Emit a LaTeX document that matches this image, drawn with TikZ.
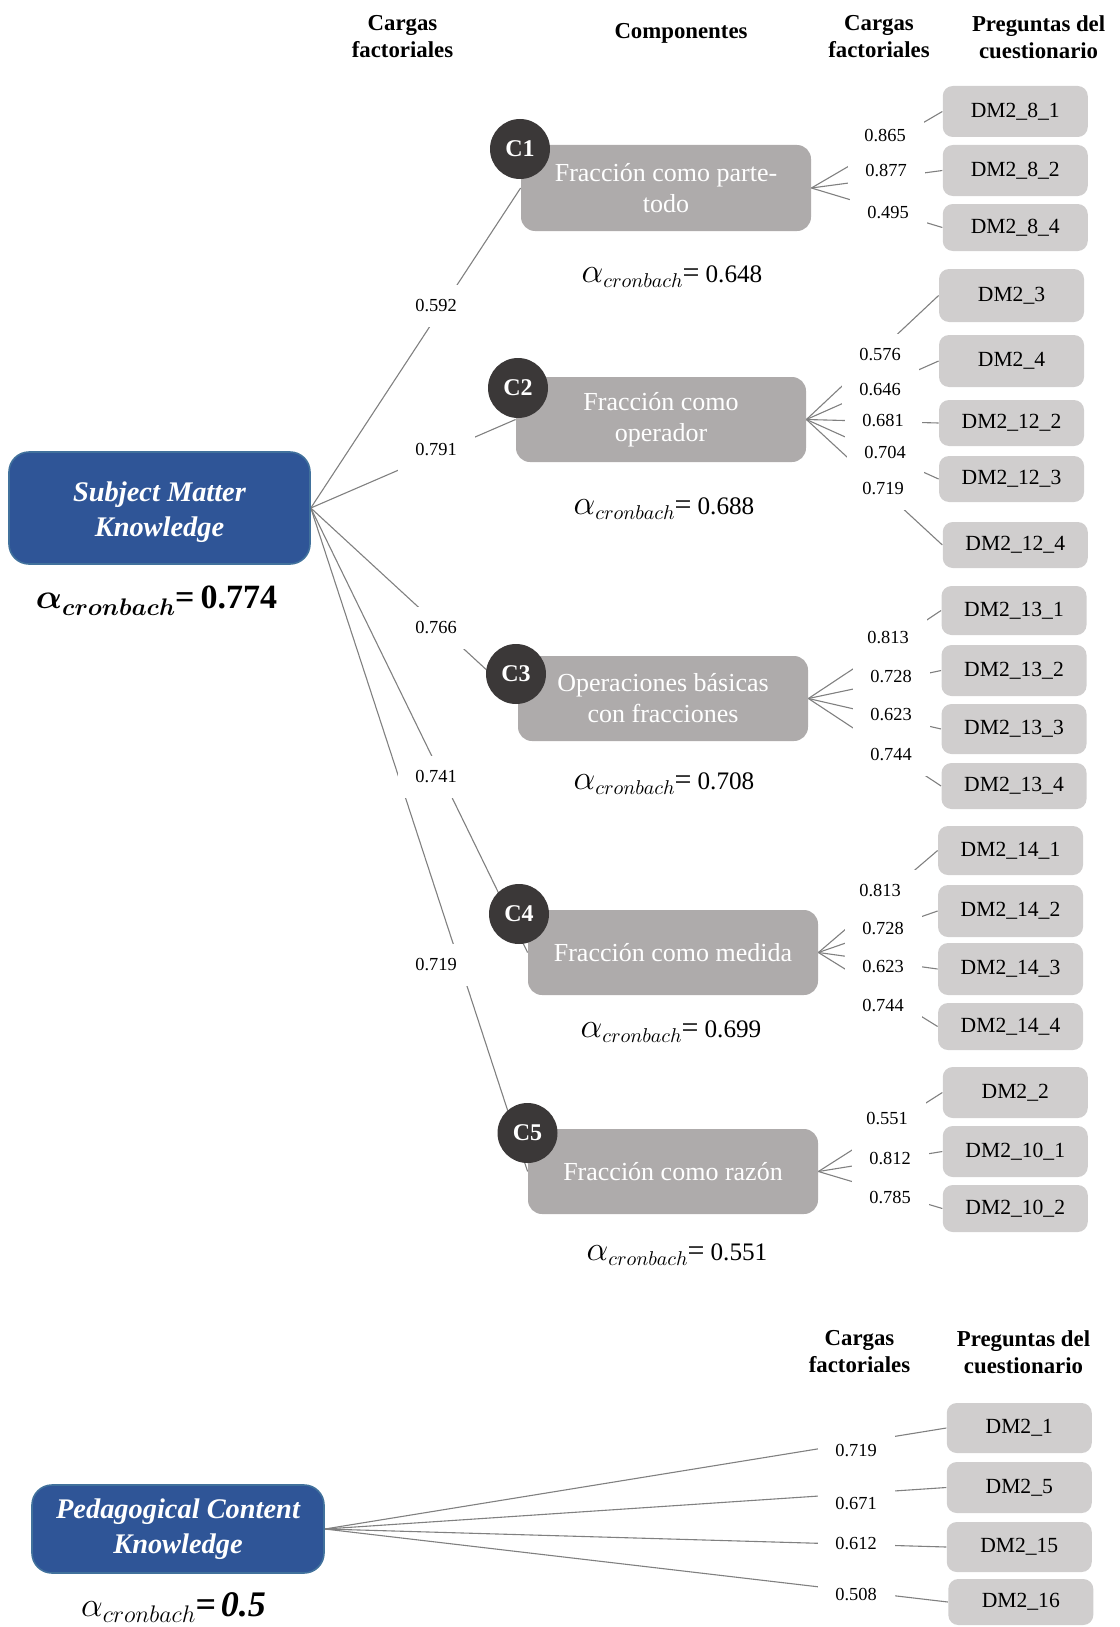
\documentclass[tikz,border=0pt]{standalone}
\usepackage{bm}
\usepackage{fontspec}
\setmainfont{Liberation Serif}
\definecolor{mainblue}{HTML}{2F5597}
\definecolor{mainborder}{HTML}{41719C}
\definecolor{compgray}{HTML}{AEABAB}
\definecolor{circgray}{HTML}{3B3838}
\definecolor{itemgray}{HTML}{D0CECE}
\definecolor{linegray}{HTML}{808080}
\pgfdeclarelayer{bg}
\pgfsetlayers{bg,main}
\newcommand\alphc{{\fontsize{16.5}{17}\selectfont$\alpha$\raisebox{-2.8pt}{\fontsize{10}{10}\selectfont$cronbach$}{\fontsize{15}{17}\selectfont=}\kern3pt}}
\begin{document}
\begin{tikzpicture}[x=0.5pt,y=-0.5pt,
  conn/.style={draw=linegray,line width=0.55pt},
  lbl/.style={fill=white,minimum width=38.5pt,minimum height=21pt,inner sep=0pt,font=\fontsize{9.2}{11}\selectfont},
  itm/.style={fill=itemgray,rounded corners=5pt,minimum width=72.5pt,minimum height=25pt,inner sep=0pt,font=\fontsize{10.8}{13}\selectfont},
  comp/.style={fill=compgray,rounded corners=7pt,minimum width=145pt,minimum height=42.5pt,inner sep=0pt,text=white,align=center,font=\fontsize{13}{15.5}\selectfont},
  badge/.style={circle,fill=circgray,minimum size=30pt,inner sep=0pt,text=white,font=\bfseries\fontsize{12}{14}\selectfont},
  mainbox/.style={fill=mainblue,draw=mainborder,line width=0.8pt,rounded corners=10pt,inner sep=0pt,text=white,align=center,font=\bfseries\itshape\fontsize{14.2}{17.5}\selectfont},
  hdr/.style={align=center,inner sep=0pt,font=\bfseries\fontsize{11.4}{13.5}\selectfont},
  alph/.style={anchor=base,inner sep=0pt,font=\fontsize{12.6}{14}\selectfont}]
\useasboundingbox (0,0) rectangle (1119,1627);

% headers
\node[hdr] (h1) at (402.5,37) {Cargas\\factoriales};
\node[hdr] (h2) at (681,33) {Componentes};
\node[hdr] (h3) at (879,37) {Cargas\\factoriales};
\node[hdr] (h4) at (1038.6,37) {Preguntas del\\cuestionario};
\node[hdr] (h5) at (859.5,1352) {Cargas\\factoriales};
\node[hdr] (h6) at (1023.5,1352) {Preguntas del\\cuestionario};

% main boxes
\node[mainbox,minimum width=150.5pt,minimum height=56pt] (smk) at (159.5,508) {\rule{0pt}{14pt}Subject Matter\\Knowledge};
\node[mainbox,minimum width=146pt,minimum height=44pt] (pck) at (178,1529) {Pedagogical Content\\Knowledge};

% components
\node[comp,minimum height=43pt] (c1) at (666,188) {Fracción como parte-\\todo};
\node[comp] (c2) at (661,419.5) {Fracción como\\operador};
\node[comp] (c3) at (663,698.5) {Operaciones básicas\\con fracciones};
\node[comp] (c4) at (673,952.5) {Fracción como medida};
\node[comp] (c5) at (673,1171.5) {Fracción como razón};

\node[badge] (b1) at (520,149) {C1};
\node[badge] (b2) at (518,388) {C2};
\node[badge] (b3) at (516,674) {C3};
\node[badge] (b4) at (519,914) {C4};
\node[badge] (b5) at (527.5,1133) {C5};

% items
\node[itm,minimum height=25.5pt] (i81) at (1015.25,111.5) {DM2\_8\_1};
\node[itm,minimum height=25.5pt] (i82) at (1015.25,170.5) {DM2\_8\_2};
\node[itm,minimum height=23.5pt] (i84) at (1015.25,227.5) {DM2\_8\_4};
\node[itm,minimum height=26.5pt] (i3) at (1011.5,295.5) {DM2\_3};
\node[itm,minimum height=26pt] (i4) at (1011.5,361) {DM2\_4};
\node[itm,minimum height=23pt] (i122) at (1011.5,423) {DM2\_12\_2};
\node[itm,minimum height=23pt] (i123) at (1011.5,479) {DM2\_12\_3};
\node[itm,minimum height=23pt] (i124) at (1015.25,545) {DM2\_12\_4};
\node[itm,minimum height=24.5pt] (i131) at (1014,610.5) {DM2\_13\_1};
\node[itm,minimum height=25.5pt] (i132) at (1014,670.5) {DM2\_13\_2};
\node[itm,minimum height=25pt] (i133) at (1014,729) {DM2\_13\_3};
\node[itm,minimum height=23pt] (i134) at (1014,786) {DM2\_13\_4};
\node[itm,minimum height=24.5pt] (i141) at (1010.5,850.5) {DM2\_14\_1};
\node[itm,minimum height=26pt] (i142) at (1010.5,911) {DM2\_14\_2};
\node[itm,minimum height=26pt] (i143) at (1010.5,969) {DM2\_14\_3};
\node[itm,minimum height=23.5pt] (i144) at (1010.5,1026.5) {DM2\_14\_4};
\node[itm,minimum height=25.5pt] (i2) at (1015.25,1092.5) {DM2\_2};
\node[itm,minimum height=25.5pt] (i101) at (1015.25,1151.5) {DM2\_10\_1};
\node[itm,minimum height=23.5pt] (i102) at (1015.25,1208.5) {DM2\_10\_2};
\node[itm,minimum height=25pt] (i1) at (1019.25,1428) {DM2\_1};
\node[itm,minimum height=25.5pt] (i5) at (1019.25,1487.5) {DM2\_5};
\node[itm,minimum height=25pt] (i15) at (1019.25,1547) {DM2\_15};
\node[itm,minimum height=23pt] (i16) at (1020.8,1602) {DM2\_16};

% connectors (background layer)
\begin{pgfonlayer}{bg}
\foreach \t in {c1,c2,c3,c4,c5} \draw[conn] (smk.east) -- (\t.west);
\foreach \t in {i81,i82,i84} \draw[conn] (c1.east) -- (\t.west);
\foreach \t in {i3,i4,i122,i123,i124} \draw[conn] (c2.east) -- (\t.west);
\foreach \t in {i131,i132,i133,i134} \draw[conn] (c3.east) -- (\t.west);
\foreach \t in {i141,i142,i143,i144} \draw[conn] (c4.east) -- (\t.west);
\foreach \t in {i2,i101,i102} \draw[conn] (c5.east) -- (\t.west);
\foreach \t in {i1,i5,i15,i16} \draw[conn] (pck.east) -- (\t.west);
\end{pgfonlayer}

% loading labels
\node[lbl] (l01) at (436,306) {0.592};
\node[lbl] (l02) at (436,450) {0.791};
\node[lbl] (l03) at (436,628) {0.766};
\node[lbl] (l04) at (436,777) {0.741};
\node[lbl] (l05) at (436,965) {0.719};

\node[lbl] (l11) at (885,136) {0.865};
\node[lbl] (l12) at (886,171) {0.877};
\node[lbl] (l13) at (888,213) {0.495};

\node[lbl] (l21) at (880,355) {0.576};
\node[lbl] (l22) at (880,390) {0.646};
\node[lbl] (l23) at (883,421) {0.681};
\node[lbl] (l24) at (885,453) {0.704};
\node[lbl] (l25) at (883,489) {0.719};

\node[lbl] (l31) at (888,638) {0.813};
\node[lbl] (l32) at (891,677) {0.728};
\node[lbl] (l33) at (891,715) {0.623};
\node[lbl] (l34) at (891,755) {0.744};

\node[lbl] (l41) at (880,891) {0.813};
\node[lbl] (l42) at (883,929) {0.728};
\node[lbl] (l43) at (883,966) {0.623};
\node[lbl] (l44) at (883,1006) {0.744};

\node[lbl] (l51) at (887,1118) {0.551};
\node[lbl] (l52) at (890,1158) {0.812};
\node[lbl] (l53) at (890,1197) {0.785};

\node[lbl] (l61) at (856,1450) {0.719};
\node[lbl] (l62) at (856,1503) {0.671};
\node[lbl] (l63) at (856,1543) {0.612};
\node[lbl] (l64) at (856,1594) {0.508};

% cronbach alphas
\node[alph] (a0) at (156.5,608) {{\fontsize{18}{19}\selectfont$\bm{\alpha}$\raisebox{-3.5pt}{\fontsize{11.5}{12}\selectfont$\bm{cronbach}$}}{\bfseries\fontsize{17}{19}\selectfont=\kern3pt 0.774}};
\node[alph] (a1) at (672,282) {\alphc{}0.648};
\node[alph] (a2) at (664,514) {\alphc{}0.688};
\node[alph] (a3) at (664,789) {\alphc{}0.708};
\node[alph] (a4) at (671,1037) {\alphc{}0.699};
\node[alph] (a5) at (677,1260) {\alphc{}0.551};
\node[alph] (a6) at (173.5,1616) {{\fontsize{18}{19}\selectfont$\alpha$\raisebox{-3.2pt}{\fontsize{12.5}{13}\selectfont$cronbach$}}{\bfseries\itshape\fontsize{18}{19}\selectfont=\kern2.5pt0.5}};
\end{tikzpicture}
\end{document}
